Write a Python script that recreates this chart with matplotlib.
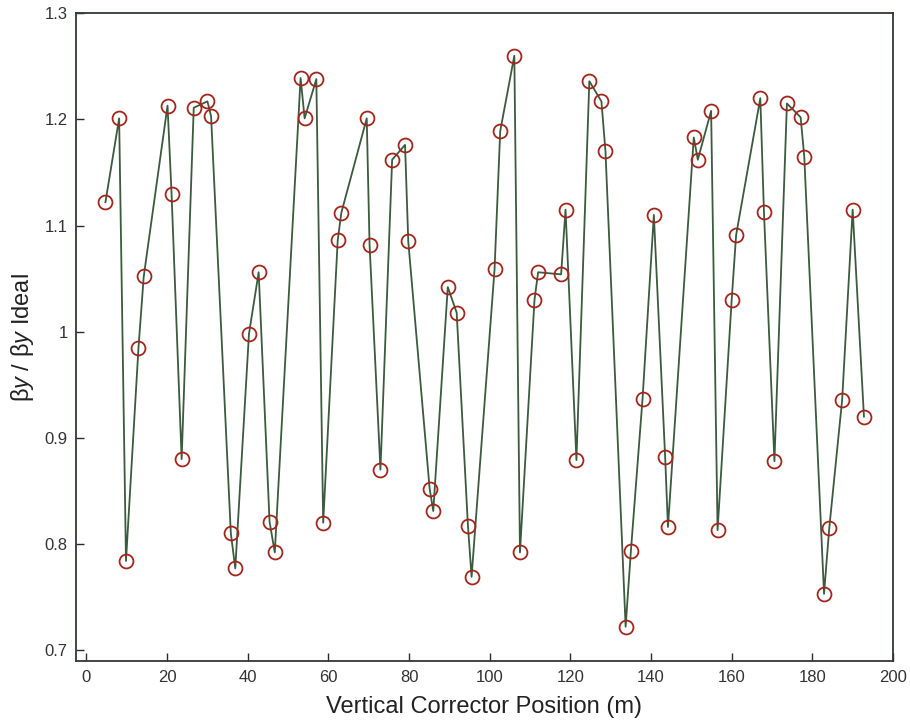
import matplotlib
matplotlib.use("Agg")
import matplotlib.pyplot as plt

# Corrector positions (m) and measured beta ratio at each
position = [4.7, 8.1, 9.8, 12.9, 14.2, 20.1, 21.1, 23.6, 26.6, 30.0,
            30.9, 35.8, 36.9, 40.3, 42.7, 45.4, 46.7, 53.1, 54.1, 57.0,
            58.7, 62.3, 63.2, 69.5, 70.2, 72.9, 75.8, 79.0, 79.8, 85.1,
            86.0, 89.6, 91.8, 94.6, 95.5, 101.2, 102.6, 106.1, 107.5, 111.1,
            112.0, 117.7, 118.8, 121.5, 124.7, 127.7, 128.7, 133.7, 135.0, 137.9,
            140.7, 143.5, 144.2, 150.6, 151.6, 154.9, 156.5, 160.0, 161.1, 167.1,
            168.0, 170.6, 173.7, 177.1, 178.0, 182.9, 184.2, 187.4, 190.0, 192.8]
beta_ratio = [1.122, 1.201, 0.784, 0.985, 1.052, 1.213, 1.130, 0.880, 1.211, 1.217,
              1.203, 0.810, 0.777, 0.998, 1.056, 0.821, 0.792, 1.239, 1.201, 1.238,
              0.820, 1.086, 1.112, 1.201, 1.082, 0.870, 1.162, 1.176, 1.085, 0.852,
              0.831, 1.042, 1.018, 0.817, 0.769, 1.059, 1.189, 1.260, 0.792, 1.030,
              1.056, 1.054, 1.115, 0.879, 1.236, 1.217, 1.170, 0.722, 0.793, 0.937,
              1.110, 0.882, 0.816, 1.183, 1.162, 1.208, 0.813, 1.030, 1.091, 1.220,
              1.113, 0.878, 1.215, 1.202, 1.165, 0.753, 0.815, 0.936, 1.115, 0.920]

x_ticks = [0, 20, 40, 60, 80, 100, 120, 140, 160, 180, 200]
y_ticks = [0.7, 0.8, 0.9, 1.0, 1.1, 1.2, 1.3]
y_tick_labels = ["0.7", "0.8", "0.9", "1", "1.1", "1.2", "1.3"]

plt.rcParams["font.family"] = ["Liberation Sans Narrow", "Liberation Sans", "DejaVu Sans"]
plt.rcParams["mathtext.fontset"] = "custom"
plt.rcParams["mathtext.rm"] = "Liberation Sans"
plt.rcParams["mathtext.it"] = "Liberation Sans:italic"

fig = plt.figure(figsize=(9.1, 7.26), dpi=100)
ax = fig.add_axes([0.0835, 0.0891, 0.8978, 0.8926])

line_color = "#3b5a3e"
marker_color = "#a3261c"

ax.plot(position, beta_ratio, color=line_color, linewidth=1.3, zorder=2)
ax.plot(position, beta_ratio, linestyle="none", marker="o", markersize=10,
        markerfacecolor="none", markeredgecolor=marker_color,
        markeredgewidth=1.3, zorder=3)

ax.set_xlim(-2.6, 200)
ax.set_ylim(0.6894, 1.3)
ax.set_xticks(x_ticks)
ax.set_yticks(y_ticks)
ax.set_yticklabels(y_tick_labels)

ax.tick_params(direction="in", length=6, width=1.0, colors="#2a2a2a",
               labelsize=12, labelcolor="#333333", pad=6,
               top=False, right=False)
for spine in ax.spines.values():
    spine.set_color("#2f3a2f")
    spine.set_linewidth(1.3)

ax.set_xlabel("Vertical Corrector Position (m)", fontsize=17, color="#222222", labelpad=8)
ax.set_ylabel(r"$\mathrm{\beta}\mathit{y}$ / $\mathrm{\beta}\mathit{y}$ Ideal",
              fontsize=17, color="#222222", labelpad=6)

fig.savefig("out.png", dpi=100)
